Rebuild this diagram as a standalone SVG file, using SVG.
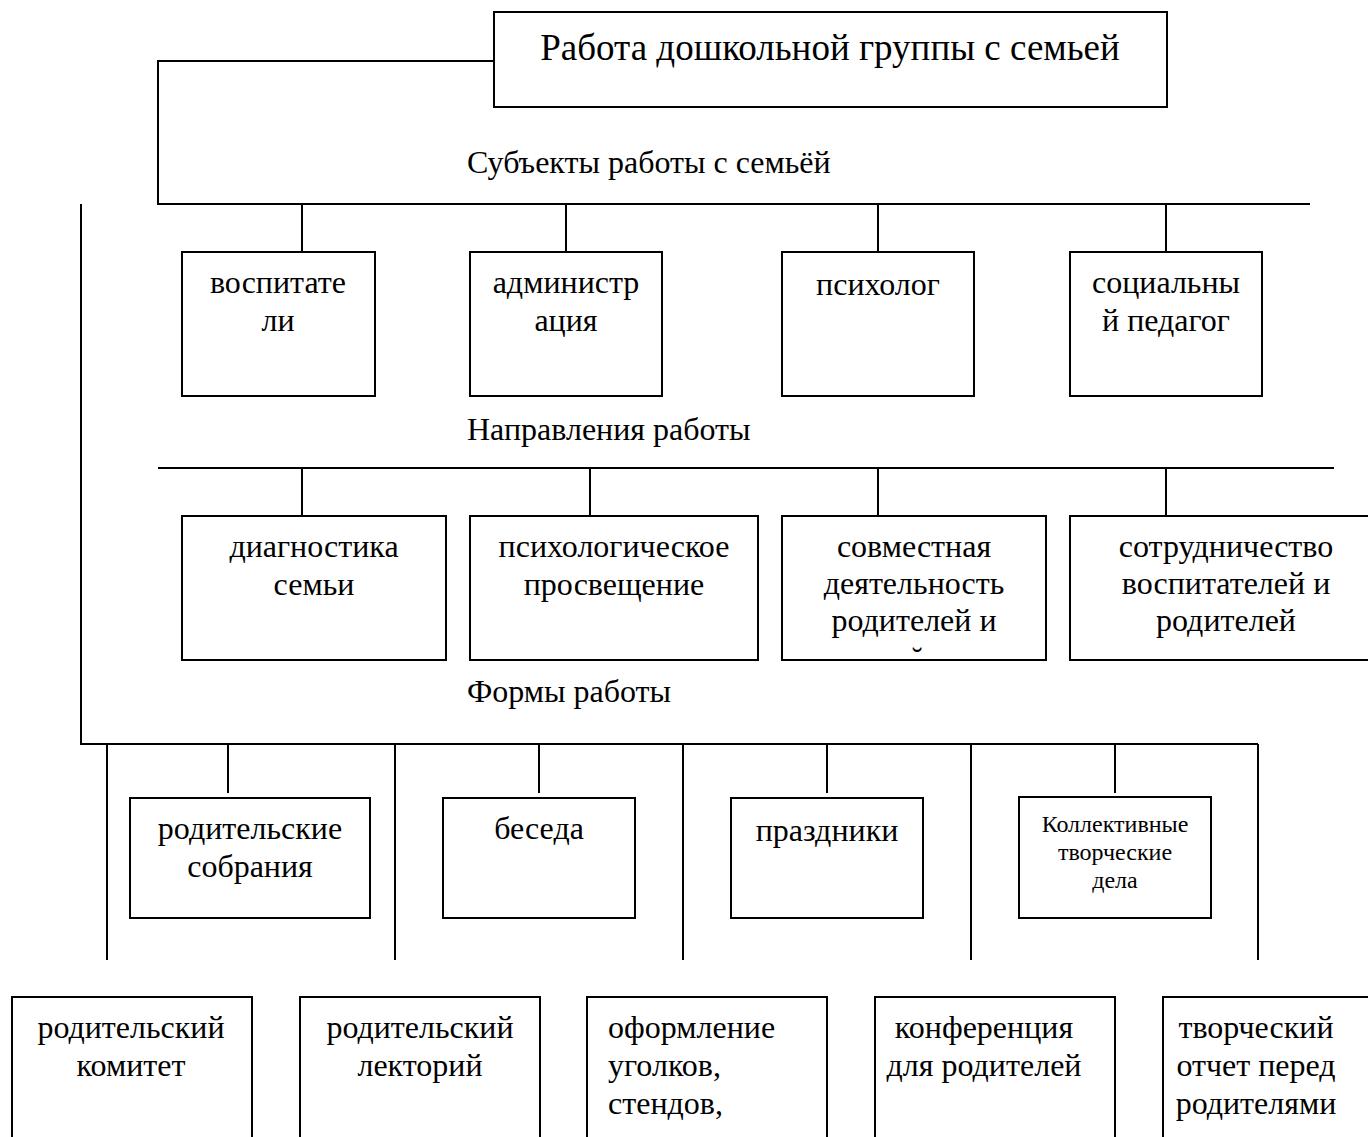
<svg xmlns="http://www.w3.org/2000/svg" width="1368" height="1137" viewBox="0 0 1368 1137">
<style>
text{font-family:"Liberation Serif","Times New Roman",serif;fill:#000;font-size:32px}
.c{text-anchor:middle}
.box{fill:#fff;stroke:#000;stroke-width:2}
.ln{stroke:#000;stroke-width:2;fill:none}
.title{font-size:37px}
.sm{font-size:24px}
</style>
<defs>
<clipPath id="clip3"><rect x="782" y="516" width="264" height="140"/></clipPath>
</defs>
<rect width="1368" height="1137" fill="#fff"/>
<g id="connectors">
<polyline class="ln" points="494,61 158,61 158,204 1310,204"/>
<line class="ln" x1="302" y1="204" x2="302" y2="252"/>
<line class="ln" x1="566" y1="204" x2="566" y2="252"/>
<line class="ln" x1="878" y1="204" x2="878" y2="252"/>
<line class="ln" x1="1166" y1="204" x2="1166" y2="252"/>
<line class="ln" x1="158" y1="468" x2="1334" y2="468"/>
<line class="ln" x1="302" y1="468" x2="302" y2="516"/>
<line class="ln" x1="590" y1="468" x2="590" y2="516"/>
<line class="ln" x1="878" y1="468" x2="878" y2="516"/>
<line class="ln" x1="1166" y1="468" x2="1166" y2="516"/>
<polyline class="ln" points="81,204 81,744 1258,744"/>
<line class="ln" x1="107" y1="744" x2="107" y2="960"/>
<line class="ln" x1="395" y1="744" x2="395" y2="960"/>
<line class="ln" x1="683" y1="744" x2="683" y2="960"/>
<line class="ln" x1="971" y1="744" x2="971" y2="960"/>
<line class="ln" x1="1258" y1="744" x2="1258" y2="960"/>
<line class="ln" x1="228" y1="744" x2="228" y2="793"/>
<line class="ln" x1="539" y1="744" x2="539" y2="793"/>
<line class="ln" x1="827" y1="744" x2="827" y2="793"/>
<line class="ln" x1="1115" y1="744" x2="1115" y2="793"/>
</g>
<g id="root"><rect class="box" x="494" y="12" width="673" height="95"/><text class="title c" x="830" y="60">Работа дошкольной группы с семьей</text></g>
<g id="lbl1"><text x="467" y="173">Субъекты работы с семьёй</text></g>
<g id="lbl2"><text x="467" y="440">Направления работы</text></g>
<g id="lbl3"><text x="467" y="702">Формы работы</text></g>
<g id="s1"><rect class="box" x="182" y="252" width="193" height="144"/><text class="c" x="278" y="293">воспитате</text><text class="c" x="278" y="331">ли</text></g>
<g id="s2"><rect class="box" x="470" y="252" width="192" height="144"/><text class="c" x="566" y="293">администр</text><text class="c" x="566" y="331">ация</text></g>
<g id="s3"><rect class="box" x="782" y="252" width="192" height="144"/><text class="c" x="878" y="295">психолог</text></g>
<g id="s4"><rect class="box" x="1070" y="252" width="192" height="144"/><text class="c" x="1166" y="293">социальны</text><text class="c" x="1166" y="331">й педагог</text></g>
<g id="d1"><rect class="box" x="182" y="516" width="264" height="144"/><text class="c" x="314" y="557">диагностика</text><text class="c" x="314" y="595">семьи</text></g>
<g id="d2"><rect class="box" x="470" y="516" width="288" height="144"/><text class="c" x="614" y="557">психологическое</text><text class="c" x="614" y="595">просвещение</text></g>
<g id="d3"><rect class="box" x="782" y="516" width="264" height="144"/><text class="c" x="914" y="557">совместная</text><text class="c" x="914" y="594">деятельность</text><text class="c" x="914" y="631">родителей и</text><text class="c" x="917" y="669" clip-path="url(#clip3)">˘</text></g>
<g id="d4"><rect class="box" x="1070" y="516" width="300" height="144"/><text class="c" x="1226" y="557">сотрудничество</text><text class="c" x="1226" y="594">воспитателей и</text><text class="c" x="1226" y="631">родителей</text></g>
<g id="f1"><rect class="box" x="130" y="798" width="240" height="120"/><text class="c" x="250" y="839">родительские</text><text class="c" x="250" y="877">собрания</text></g>
<g id="f2"><rect class="box" x="443" y="798" width="192" height="120"/><text class="c" x="539" y="839">беседа</text></g>
<g id="f3"><rect class="box" x="731" y="798" width="192" height="120"/><text class="c" x="827" y="841">праздники</text></g>
<g id="f4"><rect class="box" x="1019" y="797" width="192" height="121"/><text class="c sm" x="1115" y="832">Коллективные</text><text class="c sm" x="1115" y="860">творческие</text><text class="c sm" x="1115" y="888">дела</text></g>
<g id="b1"><rect class="box" x="12" y="997" width="240" height="145"/><text class="c" x="131" y="1038">родительский</text><text class="c" x="131" y="1076">комитет</text></g>
<g id="b2"><rect class="box" x="300" y="997" width="240" height="145"/><text class="c" x="420" y="1038">родительский</text><text class="c" x="420" y="1076">лекторий</text></g>
<g id="b3"><rect class="box" x="587" y="997" width="240" height="145"/><text x="608" y="1038">оформление</text><text x="608" y="1076">уголков,</text><text x="608" y="1114">стендов,</text></g>
<g id="b4"><rect class="box" x="875" y="997" width="240" height="145"/><text class="c" x="984" y="1038">конференция</text><text class="c" x="984" y="1076">для родителей</text></g>
<g id="b5"><rect class="box" x="1163" y="997" width="210" height="145"/><text class="c" x="1256" y="1038">творческий</text><text class="c" x="1256" y="1076">отчет перед</text><text class="c" x="1256" y="1114">родителями</text></g>
</svg>
